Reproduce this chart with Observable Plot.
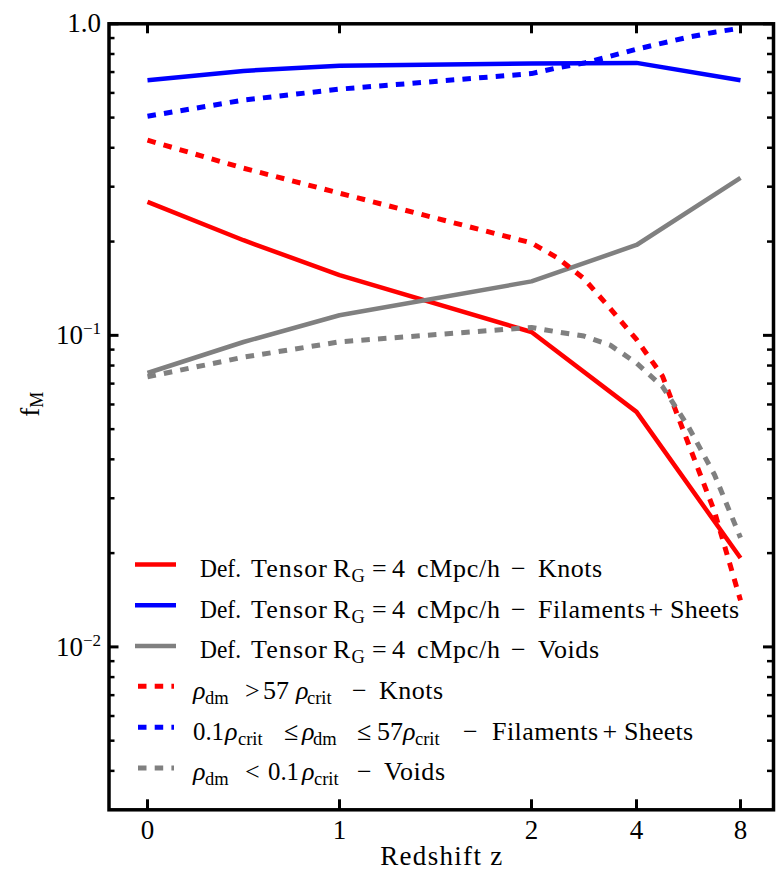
<!DOCTYPE html>
<html><head><meta charset="utf-8">
<script src="https://cdn.jsdelivr.net/npm/d3@7"></script>
<script src="https://cdn.jsdelivr.net/npm/@observablehq/plot@0.6"></script>
<style>
html,body{margin:0;padding:0;background:#fff}
#chart{width:783px;height:888px}
</style></head><body>
<div id="chart"></div>
<script>
// ---- data ----
const zSolid = [0, 0.5, 1, 2, 4, 8];
const zDensity = [0, 0.5, 1, 2, 2.5, 3, 3.5, 4, 5, 6, 7, 8];
const tensorKnots = [0.268, 0.202, 0.156, 0.1025, 0.0568, 0.0193];
const tensorFilSheets = [0.659, 0.706, 0.733, 0.746, 0.749, 0.659];
const tensorVoids = [0.0757, 0.0952, 0.116, 0.149, 0.195, 0.320];
const densKnots = [0.423, 0.344, 0.286, 0.198, 0.177, 0.152, 0.122, 0.097, 0.074, 0.0448, 0.0272, 0.0141];
const densFilSheets = [0.505, 0.569, 0.617, 0.692, 0.723, 0.748, 0.787, 0.829, 0.867, 0.906, 0.940, 0.968];
const densVoids = [0.0736, 0.0851, 0.0953, 0.106, 0.1025, 0.0995, 0.093, 0.0815, 0.0685, 0.0508, 0.0357, 0.0224];
const xTickValues = [0, 1, 2, 4, 8];
const yMajorTicks = [0.01, 0.1, 1];
const yMinorTicks = [0.004,0.005,0.006,0.007,0.008,0.009,0.02,0.03,0.04,0.05,0.06,0.07,0.08,0.09,0.2,0.3,0.4,0.5,0.6,0.7,0.8,0.9];
const xTitle = "Redshift z";
// legend text tokens: [text, kind]  (kind: n normal, i italic, s subscript)
const legendText = [
  [["Def.","n"],["Tensor","n"],["R","n"],["G","s"],["=","n"],["4","n"],["cMpc/h","n"],["−","n"],["Knots","n"]],
  [["Def.","n"],["Tensor","n"],["R","n"],["G","s"],["=","n"],["4","n"],["cMpc/h","n"],["−","n"],["Filaments","n"],["+","n"],["Sheets","n"]],
  [["Def.","n"],["Tensor","n"],["R","n"],["G","s"],["=","n"],["4","n"],["cMpc/h","n"],["−","n"],["Voids","n"]],
  [["ρ","i"],["dm","s"],[">","n"],["57","n"],["ρ","i"],["crit","s"],["−","n"],["Knots","n"]],
  [["0.1","n"],["ρ","i"],["crit","s"],["≤","n"],["ρ","i"],["dm","s"],["≤","n"],["57","n"],["ρ","i"],["crit","s"],["−","n"],["Filaments","n"],["+","n"],["Sheets","n"]],
  [["ρ","i"],["dm","s"],["<","n"],["0.1","n"],["ρ","i"],["crit","s"],["−","n"],["Voids","n"]]
];

// ---- layout / styling ----
const W = 783, H = 888;
const mL = 108.5, mR = 10, mT = 23.3, mB = 78.7;
const innerW = W - mL - mR, innerH = H - mT - mB;
const xRange = [147, 339, 531, 636, 740];
const FONT = "'Liberation Serif', 'DejaVu Serif', serif";
const dashPattern = "8.5,8.2";
const series = [
  {z: zSolid, f: tensorKnots, color: "#ff0000", dash: null},
  {z: zSolid, f: tensorFilSheets, color: "#0000ff", dash: null},
  {z: zSolid, f: tensorVoids, color: "#808080", dash: null},
  {z: zDensity, f: densKnots, color: "#ff0000", dash: dashPattern},
  {z: zDensity, f: densFilSheets, color: "#0000ff", dash: dashPattern},
  {z: zDensity, f: densVoids, color: "#808080", dash: dashPattern}
];
// legend token layout: x start and optional fitted width, per row (same order as legendText)
const commonTensor = [[200,41],[251,76],[333],[351.5],[372],[392],[417,83],[511]];
const legendLayout = [
  [...commonTensor, [538,64]],
  [...commonTensor, [538,107],[648.5],[670,69]],
  [...commonTensor, [538,61]],
  [[193],[205],[245],[263],[296],[307],[352],[379,64]],
  [[193,31],[225],[238],[284],[302],[313],[357],[377],[403],[415],[463],[492,106],[602.5],[624,69]],
  [[193],[205],[245],[268,31],[302],[314],[357],[384,61]]
];
const legendBaselines = [576.7, 617.5, 658.3, 698.6, 739.5, 780.3];

const lineMarks = series.map(s => Plot.line(
  s.z.map((z, i) => ({z, f: s.f[i]})),
  {x: "z", y: "f", stroke: s.color, strokeWidth: s.dash ? 5 : 4.5,
   strokeDasharray: s.dash, strokeLinecap: "butt", strokeLinejoin: "round"}
));

const svg = Plot.plot({
  width: W, height: H,
  marginLeft: mL, marginRight: mR, marginTop: mT, marginBottom: mB,
  style: {fontFamily: FONT, fontSize: "27px", color: "black", background: "white", overflow: "visible"},
  x: {type: "linear", domain: xTickValues, range: xRange, ticks: xTickValues, tickSize: 0, tickPadding: 10, tickFormat: d => String(d), label: null},
  y: {type: "log", domain: [0.003, 1], ticks: yMajorTicks, tickSize: 0, tickPadding: 8,
      tickFormat: d => d === 1 ? "1.0" : "10^−" + Math.round(-Math.log10(d)), label: null},
  marks: [
    ...lineMarks,
    Plot.tickY(yMajorTicks, {y: d => d, insetRight: innerW - 10, strokeWidth: 3}),
    Plot.tickY(yMajorTicks, {y: d => d, insetLeft: innerW - 10, strokeWidth: 3}),
    Plot.tickY(yMinorTicks, {y: d => d, insetRight: innerW - 6, strokeWidth: 2.5}),
    Plot.tickY(yMinorTicks, {y: d => d, insetLeft: innerW - 6, strokeWidth: 2.5}),
    Plot.tickX(xTickValues, {x: d => d, insetBottom: innerH - 10, strokeWidth: 3}),
    Plot.tickX(xTickValues, {x: d => d, insetTop: innerH - 10, strokeWidth: 3}),
    Plot.frame({stroke: "black", strokeWidth: 3.5}),
    Plot.text([xTitle], {text: d => d, frameAnchor: "bottom", dy: 55, fontSize: 27}),
    Plot.text(["f_M"], {text: d => d, frameAnchor: "left", dx: -79, rotate: -90, fontSize: 27})
  ]
});

const ns = "http://www.w3.org/2000/svg";
svg.querySelectorAll("text").forEach(t => {
  const s = t.textContent;
  const m = s.match(/^10\^(.+)$/);
  if (m) {
    t.textContent = "10";
    const ts = document.createElementNS(ns, "tspan");
    ts.setAttribute("dy", "-10");
    ts.setAttribute("font-size", "17");
    ts.textContent = m[1];
    t.appendChild(ts);
  } else if (s === "f_M") {
    t.textContent = "f";
    const ts = document.createElementNS(ns, "tspan");
    ts.setAttribute("dy", "4");
    ts.setAttribute("font-size", "18");
    ts.textContent = "M";
    t.appendChild(ts);
  } else if (s === xTitle) {
    t.setAttribute("textLength", "122");
    t.setAttribute("lengthAdjust", "spacing");
  }
});

// legend (inside the plot frame, lower left)
const g = d3.select(svg).append("g")
  .attr("font-family", FONT).attr("font-size", 26).attr("fill", "black")
  .attr("text-anchor", "start");
series.forEach((s, i) => {
  const cy = legendBaselines[i] - 12.3;
  g.append("line")
    .attr("x1", s.dash ? 138 : 135).attr("x2", s.dash ? 174 : 176)
    .attr("y1", cy).attr("y2", cy)
    .attr("stroke", s.color).attr("stroke-width", s.dash ? 5 : 4.5)
    .attr("stroke-dasharray", s.dash);
  legendText[i].forEach(([txt, kind], j) => {
    const [x, len] = legendLayout[i][j];
    const el = g.append("text").attr("x", x).attr("text-anchor", "start")
      .attr("y", legendBaselines[i] + (kind === "s" ? 5 : 0)).text(txt);
    if (kind === "s") el.attr("font-size", 18.5);
    if (kind === "i") el.attr("font-style", "italic");
    if (len) el.attr("textLength", len).attr("lengthAdjust", len < 45 ? "spacingAndGlyphs" : "spacing");
  });
});

document.getElementById("chart").appendChild(svg);
</script>
</body></html>
